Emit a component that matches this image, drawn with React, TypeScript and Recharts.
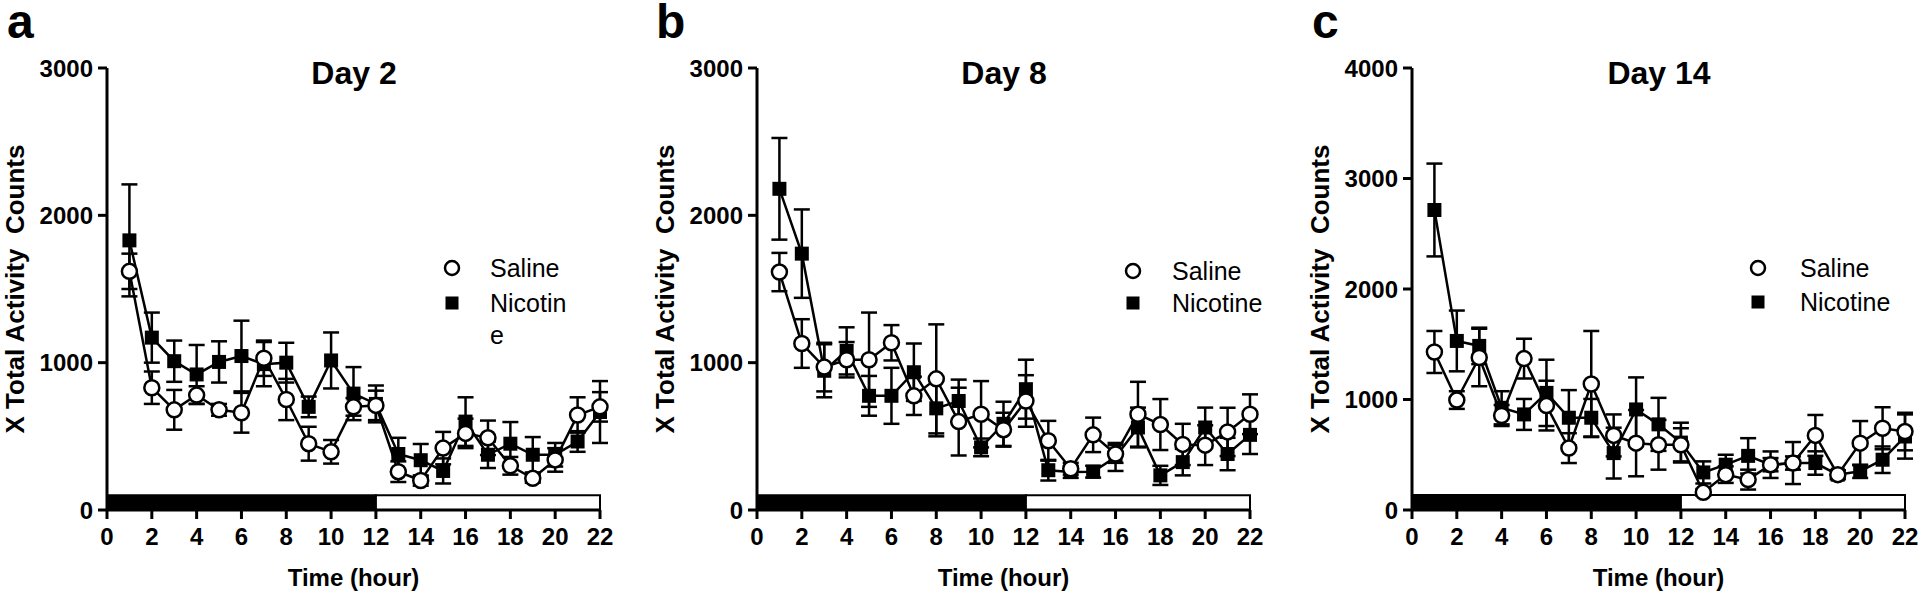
import React from "react"
import { LineChart, Line, XAxis, YAxis, ErrorBar, ReferenceArea, Label } from "recharts"

const hours = [1, 2, 3, 4, 5, 6, 7, 8, 9, 10, 11, 12, 13, 14, 15, 16, 17, 18, 19, 20, 21, 22]
const xTicks = [0, 2, 4, 6, 8, 10, 12, 14, 16, 18, 20, 22]
const yTicksAB = [0, 1000, 2000, 3000]
const yTicksC = [0, 1000, 2000, 3000, 4000]

// Day 2
const salineDay2 = [1620, 830, 680, 780, 680, 660, 1030, 750, 450, 395, 700, 710, 260, 200, 420, 520, 490, 300, 215, 340, 645, 700]
const salineDay2Sem = [120, 110, 135, 60, 40, 135, 120, 140, 115, 80, 60, 100, 70, 35, 110, 100, 117, 60, 30, 80, 120, 100]
const nicotineDay2 = [1830, 1170, 1010, 920, 1005, 1045, 990, 1000, 700, 1015, 790, 720, 380, 338, 265, 600, 375, 450, 375, 375, 465, 665]
const nicotineDay2Sem = [380, 170, 140, 200, 140, 240, 150, 135, 70, 190, 180, 125, 110, 110, 85, 165, 90, 147, 120, 80, 70, 210]

// Day 8
const salineDay8 = [1615, 1130, 970, 1020, 1020, 1135, 775, 890, 600, 650, 545, 740, 470, 280, 510, 380, 650, 580, 445, 440, 530, 650]
const salineDay8Sem = [130, 165, 165, 120, 320, 120, 130, 370, 230, 225, 115, 175, 135, 40, 117, 60, 220, 173, 140, 135, 164, 135]
const nicotineDay8 = [2180, 1740, 945, 1080, 775, 775, 935, 690, 740, 425, 585, 820, 270, 258, 260, 360, 560, 235, 325, 560, 380, 510]
const nicotineDay8Sem = [345, 300, 180, 160, 135, 190, 195, 190, 145, 60, 150, 200, 70, 40, 40, 95, 135, 65, 90, 135, 110, 130]

// Day 14
const salineDay14 = [1430, 995, 1380, 855, 1370, 945, 560, 1140, 675, 605, 590, 590, 160, 320, 275, 410, 425, 675, 320, 605, 740, 710]
const salineDay14Sem = [190, 80, 260, 95, 180, 225, 135, 480, 190, 300, 225, 150, 30, 75, 90, 60, 60, 185, 40, 200, 190, 170]
const nicotineDay14 = [2715, 1530, 1485, 925, 865, 1060, 835, 835, 515, 910, 775, 610, 340, 410, 490, 410, 425, 425, 320, 350, 455, 665]
const nicotineDay14Sem = [420, 275, 165, 150, 140, 300, 250, 170, 230, 290, 240, 180, 100, 90, 160, 120, 190, 106, 40, 60, 120, 200]

const FONT = "'Liberation Sans', Arial, Helvetica, sans-serif"

function buildRows(sal: number[], salSem: number[], nic: number[], nicSem: number[]) {
  return hours.map((hour, i) => ({
    hour,
    saline: sal[i],
    salineSem: salSem[i],
    nicotine: nic[i],
    nicotineSem: nicSem[i],
  }))
}

function OpenCircle(props: any) {
  const { cx, cy } = props
  if (cx == null || cy == null) return null
  return <circle cx={cx} cy={cy} r={7.5} fill="#fff" stroke="#000" strokeWidth={2.5} />
}

function FilledSquare(props: any) {
  const { cx, cy } = props
  if (cx == null || cy == null) return null
  return <rect x={cx - 7} y={cy - 7} width={14} height={14} fill="#000" />
}

const axisStroke = { stroke: "#000", strokeWidth: 3 }
const tickFont = { fill: "#000", fontSize: 24, fontWeight: 700, fontFamily: FONT }

interface PanelProps {
  left: number
  width: number
  rightMargin: number
  rows: ReturnType<typeof buildRows>
  yMax: number
  yTicks: number[]
  barTop: number
}

function ActivityPanel({ left, width, rightMargin, rows, yMax, yTicks, barTop }: PanelProps) {
  const plotMid = 20 + 87 + (width - 20 - 87 - rightMargin) / 2
  return (
    <div style={{ position: "absolute", left, top: 0 }}>
      <LineChart
        width={width}
        height={594}
        data={rows}
        margin={{ top: 68, right: rightMargin, bottom: 44, left: 20 }}
      >
        <XAxis
          dataKey="hour"
          type="number"
          domain={[0, 22]}
          ticks={xTicks}
          interval={0}
          height={40}
          tickSize={9}
          tickMargin={9}
          axisLine={axisStroke}
          tickLine={axisStroke}
          tick={tickFont}
        >
          <Label
            content={() => (
              <text
                x={plotMid}
                y={577}
                textAnchor="middle"
                dominantBaseline="central"
                fontFamily={FONT}
                fontWeight={700}
                fontSize={24}
                fill="#000"
              >
                Time (hour)
              </text>
            )}
          />
        </XAxis>
        <YAxis
          type="number"
          domain={[0, yMax]}
          ticks={yTicks}
          interval={0}
          allowDataOverflow
          width={87}
          tickSize={9}
          tickMargin={5}
          axisLine={axisStroke}
          tickLine={axisStroke}
          tick={tickFont}
        >
          <Label
            content={() => (
              <text
                x={15}
                y={289}
                transform="rotate(-90 15 289)"
                textAnchor="middle"
                dominantBaseline="central"
                fontFamily={FONT}
                fontWeight={700}
                fontSize={26}
                fill="#000"
                style={{ whiteSpace: "pre" }}
              >
                {"X Total Activity  Counts"}
              </text>
            )}
          />
        </YAxis>
        <ReferenceArea x1={0} x2={12} y1={0} y2={barTop} fill="#000" fillOpacity={1} stroke="#000" strokeWidth={2} />
        <ReferenceArea x1={12} x2={22} y1={0} y2={barTop} fill="#fff" fillOpacity={1} stroke="#000" strokeWidth={2} />
        <Line
          dataKey="nicotine"
          type="linear"
          stroke="#000"
          strokeWidth={2.5}
          dot={<FilledSquare />}
          activeDot={false}
          isAnimationActive={false}
        >
          <ErrorBar dataKey="nicotineSem" direction="y" width={8} stroke="#000" strokeWidth={2.5} />
        </Line>
        <Line
          dataKey="saline"
          type="linear"
          stroke="#000"
          strokeWidth={2.5}
          dot={<OpenCircle />}
          activeDot={false}
          isAnimationActive={false}
        >
          <ErrorBar dataKey="salineSem" direction="y" width={8} stroke="#000" strokeWidth={2.5} />
        </Line>
      </LineChart>
    </div>
  )
}

function LegendBlock({ mx, textX, y1, y2, lines }: { mx: number; textX: number; y1: number; y2: number; lines: string[] }) {
  return (
    <g fontFamily={FONT} fontSize={25} fill="#000">
      <circle cx={mx} cy={y1} r={7} fill="#fff" stroke="#000" strokeWidth={2.5} />
      <rect x={mx - 6.5} y={y2 - 6.5} width={13} height={13} fill="#000" />
      <text x={textX} y={y1 + 9}>Saline</text>
      {lines.map((t, i) => (
        <text key={t} x={textX} y={y2 + 9 + i * 32}>
          {t}
        </text>
      ))}
    </g>
  )
}

export default function App() {
  return (
    <div style={{ position: "absolute", left: 0, top: 0, width: 1920, height: 594, background: "#fff", overflow: "hidden" }}>
      <ActivityPanel
        left={0}
        width={640}
        rightMargin={40}
        rows={buildRows(salineDay2, salineDay2Sem, nicotineDay2, nicotineDay2Sem)}
        yMax={3000}
        yTicks={yTicksAB}
        barTop={100}
      />
      <ActivityPanel
        left={650}
        width={640}
        rightMargin={40}
        rows={buildRows(salineDay8, salineDay8Sem, nicotineDay8, nicotineDay8Sem)}
        yMax={3000}
        yTicks={yTicksAB}
        barTop={100}
      />
      <ActivityPanel
        left={1305}
        width={615}
        rightMargin={15}
        rows={buildRows(salineDay14, salineDay14Sem, nicotineDay14, nicotineDay14Sem)}
        yMax={4000}
        yTicks={yTicksC}
        barTop={135}
      />
      <svg width={1920} height={594} style={{ position: "absolute", left: 0, top: 0, pointerEvents: "none" }}>
        <g fontFamily={FONT} fontWeight={700} fill="#000">
          <text x={7} y={38} fontSize={48}>a</text>
          <text x={656} y={38} fontSize={48}>b</text>
          <text x={1312} y={38} fontSize={48}>c</text>
          <text x={354} y={84} fontSize={32} textAnchor="middle">Day 2</text>
          <text x={1004} y={84} fontSize={32} textAnchor="middle">Day 8</text>
          <text x={1659} y={84} fontSize={32} textAnchor="middle">Day 14</text>
        </g>
        <LegendBlock mx={452} textX={490} y1={268} y2={303} lines={["Nicotin", "e"]} />
        <LegendBlock mx={1133} textX={1172} y1={271} y2={303} lines={["Nicotine"]} />
        <LegendBlock mx={1758} textX={1800} y1={268} y2={302} lines={["Nicotine"]} />
      </svg>
    </div>
  )
}
